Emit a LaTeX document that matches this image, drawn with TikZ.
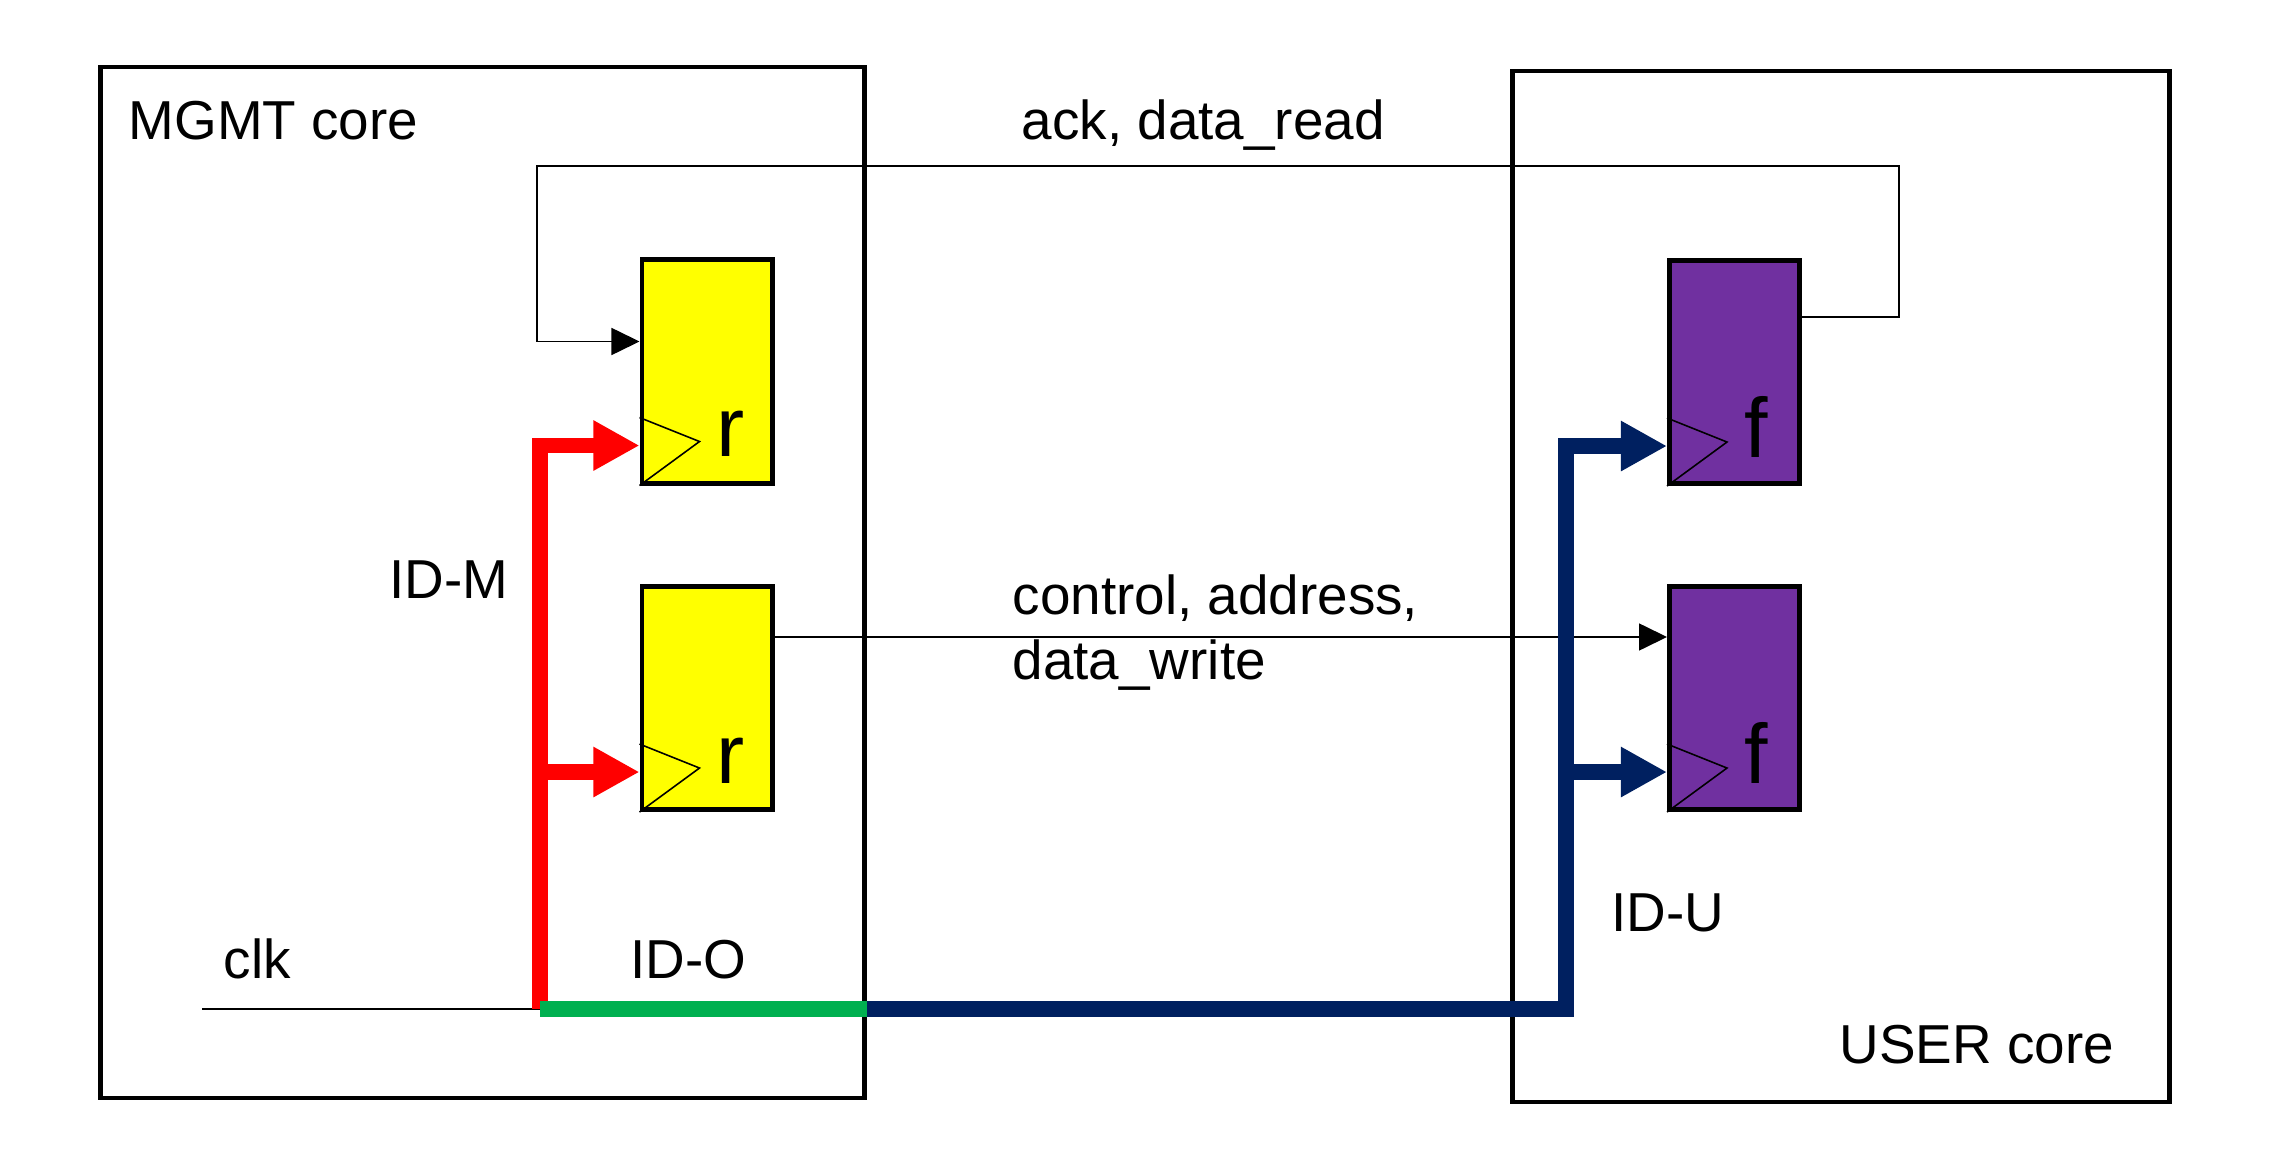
\documentclass[tikz,border=0pt]{standalone}
\usepackage{fontspec}
\setmainfont{Liberation Sans}
\usetikzlibrary{arrows.meta,calc}
\definecolor{ffyellow}{HTML}{FFFF00}
\definecolor{ffpurple}{HTML}{7030A0}
\definecolor{idnavy}{HTML}{002060}
\definecolor{idgreen}{HTML}{00B050}
\definecolor{idred}{HTML}{FF0000}
\tikzset{l/.style={font=\fontsize{15.6}{18}\selectfont,inner sep=0pt,anchor=base west}}
\tikzset{b/.style={font=\fontsize{24}{24}\selectfont,inner sep=0pt,anchor=base west}}
\tikzset{core/.style={draw,line width=1.35pt,inner sep=0pt}}
\tikzset{ff/.style={draw,line width=1.4pt,minimum width=1.3cm,minimum height=2.23cm,inner sep=0pt}}
\tikzset{sig/.style={line width=0.45pt,-{Triangle[length=0.28cm,width=0.27cm]}}}
\tikzset{ck/.style={line width=4.3pt,-{Triangle[length=0.46cm,width=0.47cm]}}}

\begin{document}
\begin{tikzpicture}[x=0.01cm,y=-0.01cm]
        \useasboundingbox (0,0) rectangle (2285,1158);
        % cores
        \node[core,minimum width=7.642cm,minimum height=10.302cm] (mgmt) at (482.5,582.5) {};
        \node[core,minimum width=6.572cm,minimum height=10.302cm] (user) at (1841,586.5) {};
        \node[l] at (128,140) {MGMT core};
        \node[l] at (1839,1063) {USER core};
        % flip-flops
        \node[ff,fill=ffyellow] (r1) at (707,371.5) {};
        \node[ff,fill=ffyellow] (r2) at (707,698) {};
        \node[ff,fill=ffpurple] (f1) at (1734.5,372) {};
        \node[ff,fill=ffpurple] (f2) at (1734.5,698) {};
        \foreach \n in {r1,r2,f1,f2}
          \draw[line width=0.45pt] ($(\n.south west)+(0,-68)$) -- ($(\n.south west)+(60,-44)$) -- (\n.south west);
        \node[b] at ($(r1.south west)+(76,-29)$) {r};
        \node[b] at ($(r2.south west)+(76,-29)$) {r};
        \node[b] at ($(f1.south west)+(77,-29)$) {f};
        \node[b] at ($(f2.south west)+(77,-29)$) {f};
        % data paths
        \coordinate (fbR) at (1899,166);
        \coordinate (fbL) at (537,166);
        \draw[sig] ($(f1.east)+(0,-55)$) -| (fbR) -- (fbL) |- ($(r1.west)+(0,-30)$);
        \node[l] at (1021,140) {ack, data\_read};
        \draw[sig] ($(r2.east)+(0,-61)$) coordinate (cw) -- (cw -| f2.west);
        \node[l] at (1012,614) {control, address,};
        \node[l] at (1012,679) {data\_write};
        % clock tree
        \coordinate (clkIn) at (202,1009);
        \coordinate (clkM) at (540,1009);
        \coordinate (clkU) at (1566,1009);
        \draw[line width=0.55pt] (clkIn) -- (clkM);
        \node[l] at (223,978) {clk};
        \draw[ck,idred] (clkM) |- ($(r1.south west)+(0,-40)$);
        \draw[ck,idred] ($(clkM |- r2.south west)+(0,-40)$) -- ($(r2.south west)+(0,-40)$);
        \node[l] at (389,598) {ID-M};
        \draw[line width=4.3pt,idgreen] (clkM) -- (clkM -| mgmt.east);
        \node[l] at (630,978) {ID-O};
        \draw[ck,idnavy] (clkM -| mgmt.east) -| ($(clkU |- f1.south west)+(0,-40)$) -- ($(f1.south west)+(0,-40)$);
        \draw[ck,idnavy] ($(clkU |- f2.south west)+(0,-40)$) -- ($(f2.south west)+(0,-40)$);
        \node[l] at (1611,931) {ID-U};
\end{tikzpicture}
\end{document}
